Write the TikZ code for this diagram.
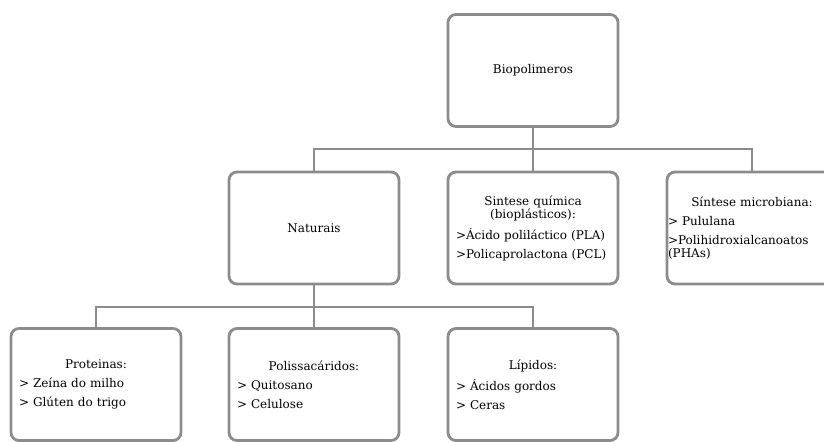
\documentclass[tikz,border=0pt]{standalone}
\usepackage{fontspec}
\setmainfont{DejaVu Serif}
\usepackage{tikz}
\definecolor{linhacinza}{RGB}{140,140,140}
\newcommand{\titulo}[1]{\makebox[\linewidth][c]{#1}}

\begin{document}
\begin{tikzpicture}[x=0.75pt,y=-0.75pt,
  caixa/.style={draw=linhacinza, line width=2.1pt, rounded corners=6pt,
    minimum width=127.5pt, minimum height=84pt,
    font=\fontsize{9}{10}\selectfont, text=black},
  lista/.style={caixa, align=left, text width=115.5pt, inner xsep=6pt},
  ligacao/.style={draw=linhacinza, line width=2.2pt}]
  \useasboundingbox (0,0) rectangle (824,442);
  \clip (0,0) rectangle (824,442);

  % nivel 1
  \node[caixa] (bio) at (533,70.5) {Biopolimeros};

  % nivel 2
  \node[caixa] (nat) at (314,228) {Naturais};
  \node[lista] (sin) at (533,228) {\titulo{Sintese química}\\
    \titulo{(bioplásticos):}\\[4.25pt]
    >Ácido poliláctico (PLA)\\[4.25pt]
    >Policaprolactona (PCL)};
  \node[lista, text width=126pt, inner xsep=0.75pt] (mic) at (752,228)
    {\titulo{Síntese microbiana:}\\[4.25pt]
    > Pululana\\[4.25pt]
    >Polihidroxialcanoatos\\
    (PHAs)};

  % nivel 3
  \node[lista] (pro) at (96,384.5) {\titulo{Proteinas:}\\[4.25pt]
    > Zeína do milho\\[4.25pt]
    > Glúten do trigo};
  \node[lista] (pol) at (314,384.5) {\titulo{Polissacáridos:}\\[4.25pt]
    > Quitosano\\[4.25pt]
    > Celulose};
  \node[lista] (lip) at (533,384.5) {\titulo{Lípidos:}\\[4.25pt]
    > Ácidos gordos\\[4.25pt]
    > Ceras};

  % ligacoes
  \coordinate (barra1) at (533,149);
  \coordinate (barra2) at (314,307);
  \draw[ligacao] (bio.south) -- (barra1);
  \draw[ligacao] (nat.north) |- (barra1) -| (mic.north);
  \draw[ligacao] (barra1) -- (sin.north);
  \draw[ligacao] (nat.south) -- (barra2);
  \draw[ligacao] (pro.north) |- (barra2) -| (lip.north);
  \draw[ligacao] (barra2) -- (pol.north);
\end{tikzpicture}
\end{document}
